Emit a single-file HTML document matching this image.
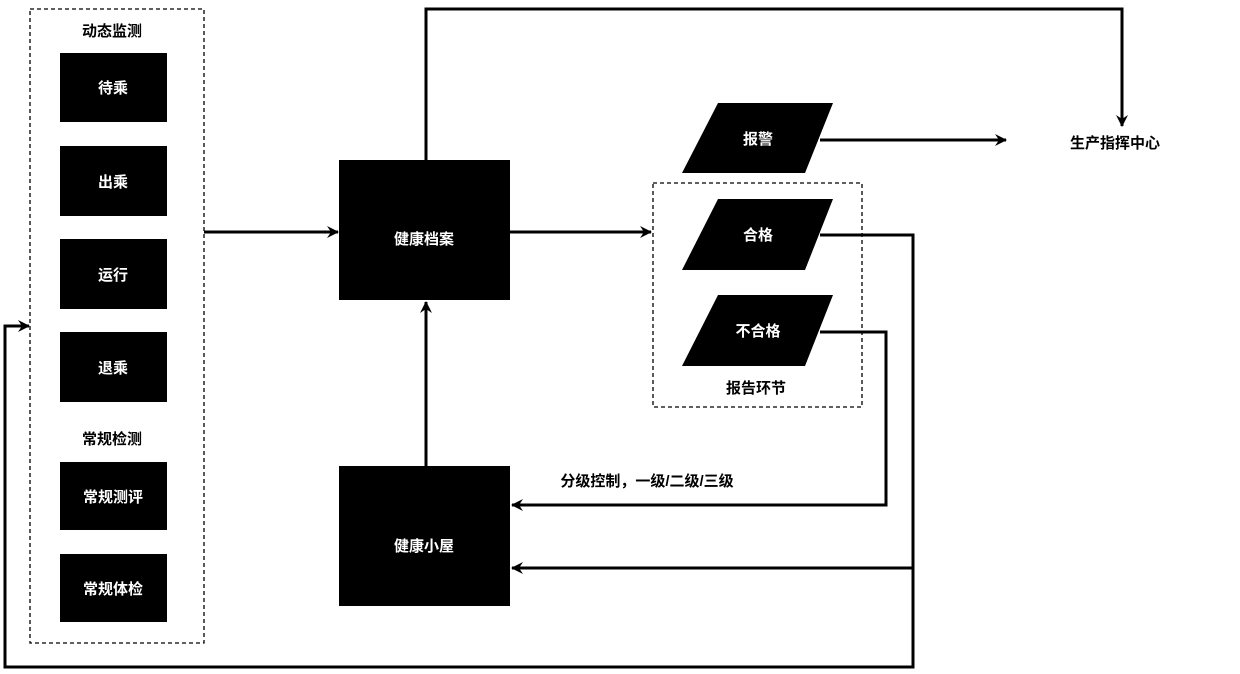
<!DOCTYPE html>
<html><head><meta charset="utf-8"><style>
html,body{margin:0;padding:0;background:#fff;}
svg{display:block;}
text{font-family:"Liberation Sans","Noto Sans CJK SC",sans-serif;font-weight:bold;font-size:15px;}
</style></head><body>
<svg width="1240" height="674" viewBox="0 0 1240 674" xmlns="http://www.w3.org/2000/svg">
<defs>
<marker id="a" markerWidth="12" markerHeight="12" refX="11" refY="6" orient="auto" markerUnits="userSpaceOnUse">
<path d="M0,0 L12,6 L0,12 L4,6 Z" fill="#000"/>
</marker>
</defs>
<g fill="none" stroke="#000" stroke-width="1.3" stroke-dasharray="4,3">
<rect x="30" y="9" width="174" height="634"/>
<rect x="653" y="183" width="209" height="224"/>
</g>
<g fill="#000">
<rect x="60" y="53" width="107" height="69"/>
<rect x="60" y="146" width="107" height="70"/>
<rect x="60" y="239" width="107" height="70"/>
<rect x="60" y="332" width="107" height="70"/>
<rect x="60" y="462" width="107" height="68"/>
<rect x="60" y="554" width="107" height="68"/>
<rect x="339" y="160" width="171" height="140"/>
<rect x="339" y="466" width="171" height="140"/>
<polygon points="718,103 833,103 805,173 682,173"/>
<polygon points="718,199 833,199 805,270 682,270"/>
<polygon points="718,295 833,295 805,366 682,366"/>
</g>
<g fill="none" stroke="#000" stroke-width="3">
<polyline points="426,160 426,9 1122,9 1122,126" marker-end="url(#a)"/>
<line x1="204" y1="232" x2="338" y2="232" marker-end="url(#a)"/>
<line x1="510" y1="232" x2="651" y2="232" marker-end="url(#a)"/>
<line x1="820" y1="140" x2="1006" y2="140" marker-end="url(#a)"/>
<polyline points="820,235 913,235 913,667 5,667 5,326 29,326" marker-end="url(#a)"/>
<line x1="913" y1="568" x2="512" y2="568" marker-end="url(#a)"/>
<polyline points="820,332 886,332 886,505 512,505" marker-end="url(#a)"/>
<line x1="426" y1="466" x2="426" y2="302" marker-end="url(#a)"/>
</g>
<g fill="#fff" text-anchor="middle">
<text x="113" y="93">待乘</text>
<text x="113" y="187">出乘</text>
<text x="113" y="280">运行</text>
<text x="113" y="373">退乘</text>
<text x="113" y="502">常规测评</text>
<text x="113" y="594">常规体检</text>
<text x="424" y="244">健康档案</text>
<text x="424" y="551">健康小屋</text>
<text x="758" y="144">报警</text>
<text x="758" y="240">合格</text>
<text x="758" y="336">不合格</text>
</g>
<g fill="#000" text-anchor="middle">
<text x="112" y="36">动态监测</text>
<text x="112" y="444">常规检测</text>
<text x="756" y="393">报告环节</text>
<text x="1115" y="148">生产指挥中心</text>
<text x="647" y="486">分级控制，一级/二级/三级</text>
</g>
</svg>
</body></html>
